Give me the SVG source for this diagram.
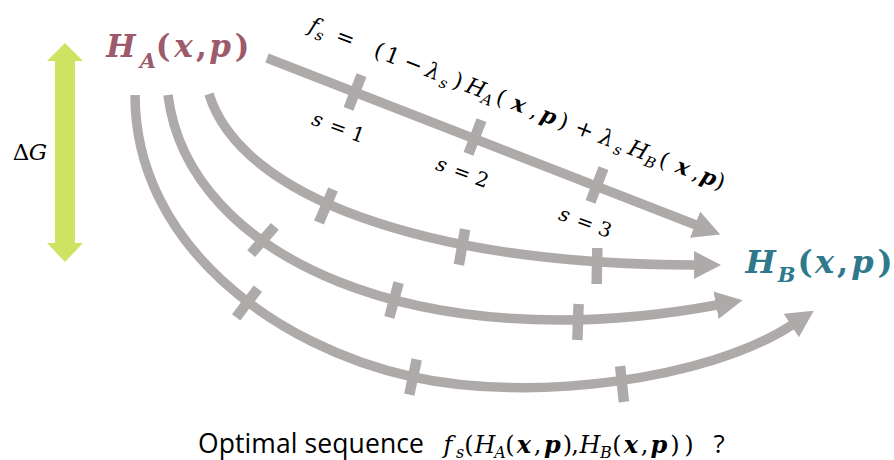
<svg xmlns="http://www.w3.org/2000/svg" width="894" height="460" viewBox="0 0 894 460">
<defs>
<style>
.ln{fill:none;stroke:#AEAAA9;stroke-width:9.5;marker-end:url(#ah)}
.tk{stroke:#AEAAA9;stroke-width:10.5}
.m{font-family:"DejaVu Serif","Liberation Serif",serif;font-style:italic;text-anchor:middle;fill:#000}
.u{font-style:normal}
.b{font-weight:bold}
.sans{font-family:"Open Sans","Liberation Sans",sans-serif;fill:#000}
</style>
<marker id="ah" viewBox="0 0 27 28" refX="1" refY="14" markerWidth="27" markerHeight="28" markerUnits="userSpaceOnUse" orient="auto">
<path d="M0,0 L27,14 L0,28 z" fill="#AEAAA9"/>
</marker>
</defs>
<rect width="894" height="460" fill="#fff"/>

<g id="deltaG">
<polygon points="65,43 83,61 75,61 75,243 83,243 65,262 47,243 55,243 55,61 47,61" fill="#CDE463"/>
<text class="m" font-size="23" y="160"><tspan class="u" x="21">Δ</tspan><tspan x="38">G</tspan></text>
</g>

<g id="HA">
<text class="m b" font-size="31" style="fill:#9C5A6B"><tspan x="121" y="57">H</tspan><tspan x="148" y="68" font-size="21">A</tspan><tspan class="u" x="163" y="57">(</tspan><tspan x="183.5" y="57">x</tspan><tspan class="u" x="201.5" y="57">,</tspan><tspan x="220" y="57">p</tspan><tspan class="u" x="242" y="57">)</tspan></text>
</g>

<g id="HB">
<text class="m b" font-size="32" style="fill:#2E7A8C"><tspan x="760.5" y="273">H</tspan><tspan x="786.5" y="282" font-size="21">B</tspan><tspan class="u" x="805" y="273">(</tspan><tspan x="824.5" y="273">x</tspan><tspan class="u" x="842.5" y="273">,</tspan><tspan x="862.5" y="273">p</tspan><tspan class="u" x="885" y="273">)</tspan></text>
</g>

<g id="connectors">
<path class="ln" d="M267,58 L696,225"/>
<path class="ln" d="M209,94 C240,195 420,264 695,265"/>
<path class="ln" d="M168,95 C188,258 420,360 717,305"/>
<path class="ln" d="M135,95 C135,245 276,347 413,377 C530,403 708,380 792,325"/>
</g>

<g id="ticks">
<line class="tk" x1="0" y1="-18" x2="0" y2="18" transform="translate(355,92) rotate(21.2)"/>
<line class="tk" x1="0" y1="-18" x2="0" y2="18" transform="translate(475,137) rotate(21.2)"/>
<line class="tk" x1="0" y1="-18" x2="0" y2="18" transform="translate(597,185) rotate(21.2)"/>
<line class="tk" x1="0" y1="-18" x2="0" y2="18" transform="translate(326,206) rotate(23)"/>
<line class="tk" x1="0" y1="-18" x2="0" y2="18" transform="translate(462,247) rotate(10)"/>
<line class="tk" x1="0" y1="-18" x2="0" y2="18" transform="translate(597,266) rotate(1)"/>
<line class="tk" x1="0" y1="-18" x2="0" y2="18" transform="translate(263,240) rotate(41)"/>
<line class="tk" x1="0" y1="-18" x2="0" y2="18" transform="translate(394,300) rotate(15)"/>
<line class="tk" x1="0" y1="-18" x2="0" y2="18" transform="translate(578,322) rotate(2)"/>
<line class="tk" x1="0" y1="-18" x2="0" y2="18" transform="translate(247,303) rotate(37)"/>
<line class="tk" x1="0" y1="-18" x2="0" y2="18" transform="translate(413,377) rotate(12)"/>
<line class="tk" x1="0" y1="-18" x2="0" y2="18" transform="translate(622,384) rotate(-6)"/>
</g>

<g id="formula">
<text class="m" font-size="22" transform="translate(303,25) rotate(21)"><tspan x="10.5" y="4">f</tspan><tspan x="19" y="9" font-size="15">s</tspan><tspan class="u" x="44.3" y="4">=</tspan><tspan class="u" x="80.3" y="4">(</tspan><tspan class="u" x="94.6" y="4">1</tspan><tspan class="u" x="117" y="4">−</tspan><tspan x="138" y="4">λ</tspan><tspan x="152" y="9" font-size="15">s</tspan><tspan class="u" x="165" y="4">)</tspan><tspan x="183.9" y="4">H</tspan><tspan x="198.4" y="9" font-size="15">A</tspan><tspan class="u" x="210.9" y="4">(</tspan><tspan class="b" x="230.2" y="4">x</tspan><tspan class="u" x="247" y="4">,</tspan><tspan class="b" x="262.1" y="4">p</tspan><tspan class="u" x="277.9" y="4">)</tspan><tspan class="u" x="300.2" y="4">+</tspan><tspan x="324.2" y="4">λ</tspan><tspan x="338.5" y="9" font-size="15">s</tspan><tspan x="357.8" y="4">H</tspan><tspan x="373.1" y="9" font-size="15">B</tspan><tspan class="u" x="385.6" y="4">(</tspan><tspan class="b" x="405.9" y="4">x</tspan><tspan class="u" x="420.9" y="4">,</tspan><tspan class="b" x="433.5" y="4">p</tspan><tspan class="u" x="445.7" y="4">)</tspan></text>
</g>

<g id="s1">
<text class="m" font-size="20" transform="translate(338,128) rotate(20)"><tspan x="-22" y="6">s</tspan><tspan class="u" x="0" y="6">=</tspan><tspan class="u" x="21" y="6">1</tspan></text>
</g>
<g id="s2">
<text class="m" font-size="20" transform="translate(462,173) rotate(20)"><tspan x="-22" y="6">s</tspan><tspan class="u" x="0" y="6">=</tspan><tspan class="u" x="21" y="6">2</tspan></text>
</g>
<g id="s3">
<text class="m" font-size="20" transform="translate(585,223) rotate(20)"><tspan x="-22" y="6">s</tspan><tspan class="u" x="0" y="6">=</tspan><tspan class="u" x="21" y="6">3</tspan></text>
</g>

<g id="question">
<text class="sans" font-size="26.5" x="198" y="453" textLength="226" lengthAdjust="spacing">Optimal sequence</text>
<text class="m" font-size="24"><tspan x="448" y="453">f</tspan><tspan x="460" y="458" font-size="16">s</tspan><tspan class="u" x="469" y="453">(</tspan><tspan x="485" y="453">H</tspan><tspan x="500" y="458" font-size="16">A</tspan><tspan class="u" x="510" y="453">(</tspan><tspan class="b" x="524" y="453">x</tspan><tspan class="u" x="537.5" y="453">,</tspan><tspan class="b" x="552.5" y="453">p</tspan><tspan class="u" x="567.5" y="453">)</tspan><tspan class="u" x="575" y="453">,</tspan><tspan x="590" y="453">H</tspan><tspan x="606" y="458" font-size="16">B</tspan><tspan class="u" x="617" y="453">(</tspan><tspan class="b" x="631" y="453">x</tspan><tspan class="u" x="644.5" y="453">,</tspan><tspan class="b" x="659" y="453">p</tspan><tspan class="u" x="675" y="453">)</tspan><tspan class="u" x="689" y="453">)</tspan></text>
<text class="sans" font-size="26" x="719" y="453" text-anchor="middle">?</text>
</g>
</svg>
